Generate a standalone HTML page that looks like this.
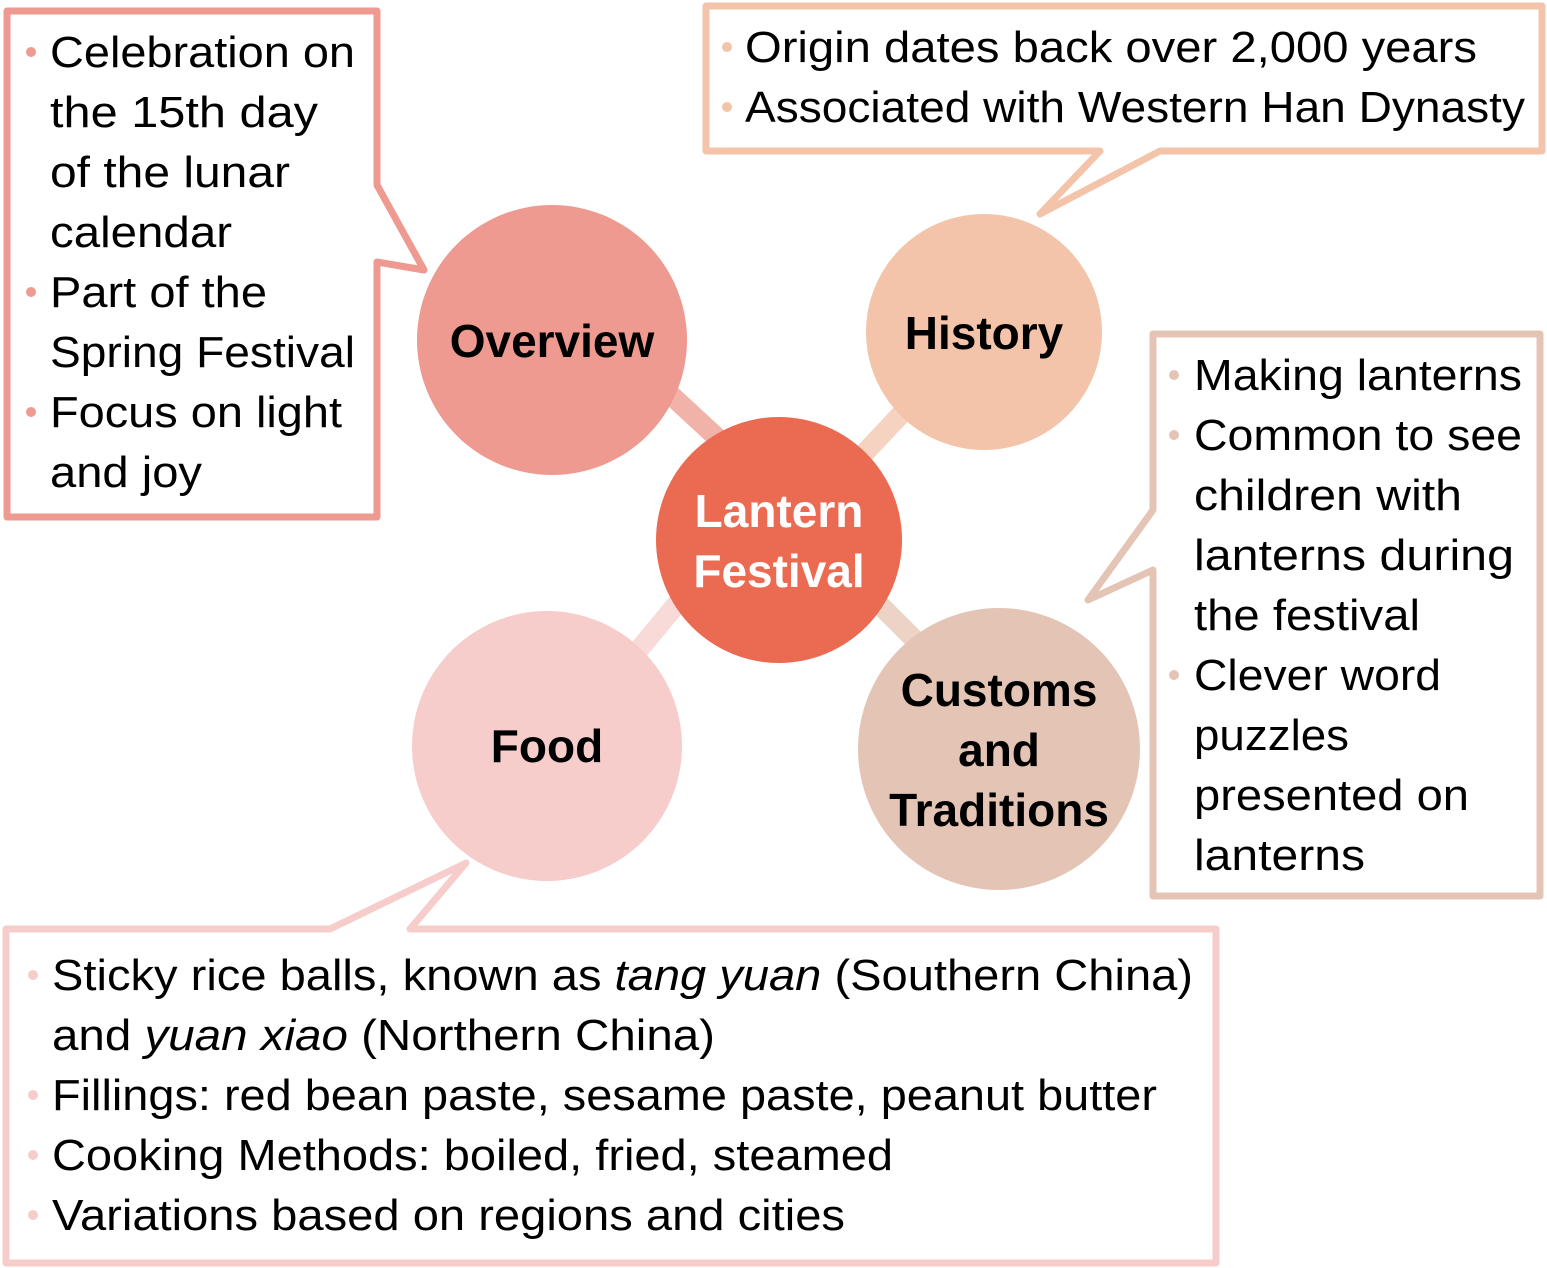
<!DOCTYPE html>
<html><head><meta charset="utf-8"><style>
html,body{margin:0;padding:0;background:#fff;}
svg{display:block;}
text{font-family:"Liberation Sans",sans-serif;}
.t{font-size:44px;fill:#000;}
.b{font-size:46px;font-weight:bold;fill:#000;text-anchor:middle;}
</style></head><body>
<svg width="1547" height="1268" viewBox="0 0 1547 1268">
<line x1="660" y1="385" x2="725" y2="445" stroke="#F1B2A9" stroke-width="20"/>
<line x1="905" y1="410" x2="858" y2="460" stroke="#F6D2C0" stroke-width="20"/>
<line x1="680" y1="600" x2="632" y2="658" stroke="#F8DAD8" stroke-width="20"/>
<line x1="875" y1="600" x2="925" y2="650" stroke="#ECD3C6" stroke-width="20"/>
<circle cx="552" cy="340" r="135" fill="#EE9A90"/>
<circle cx="984" cy="332" r="118" fill="#F3C4AA"/>
<circle cx="547" cy="746" r="135" fill="#F6CDCB"/>
<circle cx="999" cy="749" r="141" fill="#E4C4B4"/>
<circle cx="779" cy="540" r="123" fill="#EB6B52"/>
<path d="M7,11 H377 V185 L424,270 L377,262 V517 H7 Z" fill="#fff" stroke="#EE9A90" stroke-width="7" stroke-linejoin="round"/>
<path d="M706,6 H1542 V151 H1160 L1040,214 L1100,151 H706 Z" fill="#fff" stroke="#F3C4AA" stroke-width="7" stroke-linejoin="round"/>
<path d="M1153,334 H1540 V896 H1153 V570 L1088,600 L1153,510 Z" fill="#fff" stroke="#E4C4B4" stroke-width="7" stroke-linejoin="round"/>
<path d="M6,929 H330 L466,863 L410,929 H1216 V1263 H6 Z" fill="#fff" stroke="#F6CDCB" stroke-width="7" stroke-linejoin="round"/>
<text class="b" x="552" y="357">Overview</text>
<text class="b" x="984" y="349">History</text>
<text class="b" x="547" y="762">Food</text>
<text class="b" x="999" y="706">Customs</text>
<text class="b" x="999" y="766">and</text>
<text class="b" x="999" y="826">Traditions</text>
<text class="b" x="779" y="527" style="fill:#fff">Lantern</text>
<text class="b" x="779" y="587" style="fill:#fff">Festival</text>
<g fill="#EE9A90"><circle cx="31" cy="52" r="5"/><circle cx="31" cy="292" r="5"/><circle cx="31" cy="412" r="5"/></g>
<text class="t" x="50" y="67" textLength="305" lengthAdjust="spacingAndGlyphs">Celebration on</text>
<text class="t" x="50" y="127" textLength="268" lengthAdjust="spacingAndGlyphs">the 15th day</text>
<text class="t" x="50" y="187" textLength="240" lengthAdjust="spacingAndGlyphs">of the lunar</text>
<text class="t" x="50" y="247" textLength="182" lengthAdjust="spacingAndGlyphs">calendar</text>
<text class="t" x="50" y="307" textLength="217" lengthAdjust="spacingAndGlyphs">Part of the</text>
<text class="t" x="50" y="367" textLength="305" lengthAdjust="spacingAndGlyphs">Spring Festival</text>
<text class="t" x="50" y="427" textLength="292" lengthAdjust="spacingAndGlyphs">Focus on light</text>
<text class="t" x="50" y="487" textLength="152" lengthAdjust="spacingAndGlyphs">and joy</text>
<g fill="#F3C4AA"><circle cx="727" cy="47" r="5"/><circle cx="727" cy="107" r="5"/></g>
<text class="t" x="745" y="62" textLength="732" lengthAdjust="spacingAndGlyphs">Origin dates back over 2,000 years</text>
<text class="t" x="745" y="122" textLength="780" lengthAdjust="spacingAndGlyphs">Associated with Western Han Dynasty</text>
<g fill="#E4C4B4"><circle cx="1174" cy="375" r="5"/><circle cx="1174" cy="435" r="5"/><circle cx="1174" cy="675" r="5"/></g>
<text class="t" x="1194" y="390" textLength="328" lengthAdjust="spacingAndGlyphs">Making lanterns</text>
<text class="t" x="1194" y="450" textLength="328" lengthAdjust="spacingAndGlyphs">Common to see</text>
<text class="t" x="1194" y="510" textLength="268" lengthAdjust="spacingAndGlyphs">children with</text>
<text class="t" x="1194" y="570" textLength="320" lengthAdjust="spacingAndGlyphs">lanterns during</text>
<text class="t" x="1194" y="630" textLength="226" lengthAdjust="spacingAndGlyphs">the festival</text>
<text class="t" x="1194" y="690" textLength="247" lengthAdjust="spacingAndGlyphs">Clever word</text>
<text class="t" x="1194" y="750" textLength="155" lengthAdjust="spacingAndGlyphs">puzzles</text>
<text class="t" x="1194" y="810" textLength="275" lengthAdjust="spacingAndGlyphs">presented on</text>
<text class="t" x="1194" y="870" textLength="171" lengthAdjust="spacingAndGlyphs">lanterns</text>
<g fill="#F6CDCB"><circle cx="33" cy="975" r="5"/><circle cx="33" cy="1095" r="5"/><circle cx="33" cy="1155" r="5"/><circle cx="33" cy="1215" r="5"/></g>
<text class="t" x="52" y="990" textLength="1141" lengthAdjust="spacingAndGlyphs">Sticky rice balls, known as <tspan font-style="italic">tang yuan</tspan> (Southern China)</text>
<text class="t" x="52" y="1050" textLength="663" lengthAdjust="spacingAndGlyphs">and <tspan font-style="italic">yuan xiao</tspan> (Northern China)</text>
<text class="t" x="52" y="1110" textLength="1105" lengthAdjust="spacingAndGlyphs">Fillings: red bean paste, sesame paste, peanut butter</text>
<text class="t" x="52" y="1170" textLength="841" lengthAdjust="spacingAndGlyphs">Cooking Methods: boiled, fried, steamed</text>
<text class="t" x="52" y="1230" textLength="793" lengthAdjust="spacingAndGlyphs">Variations based on regions and cities</text>
</svg>
</body></html>
